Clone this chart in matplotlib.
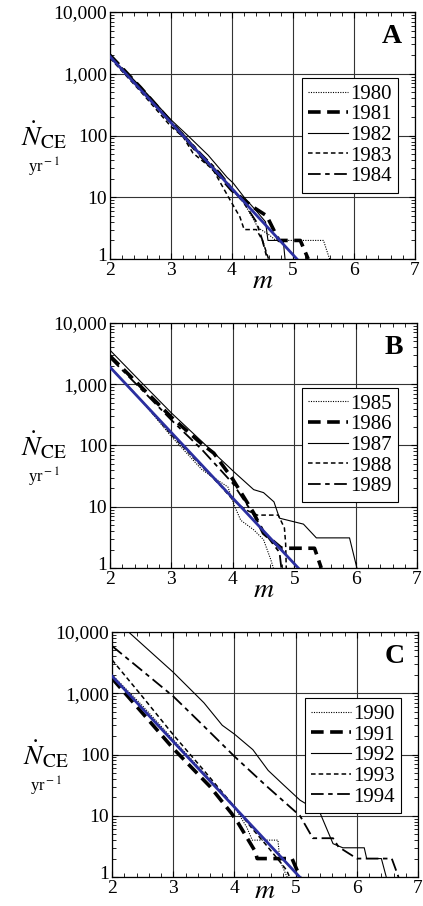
import numpy as np
import matplotlib
matplotlib.use('Agg')
import matplotlib.pyplot as plt
from matplotlib.ticker import FixedLocator, MultipleLocator, LogLocator, NullFormatter
from matplotlib.transforms import ScaledTranslation

plt.rcParams['font.family'] = ['Liberation Serif', 'DejaVu Serif']
plt.rcParams['mathtext.fontset'] = 'stix'

# fitted Gutenberg-Richter line (same in all panels)
fit_m = [2.0, 5.065]
fit_n = [1905, 1.0]

# panel A, 1980-1984
years_a = ['1980', '1981', '1982', '1983', '1984']
m_1980 = [2.0, 2.5, 3.0, 3.5, 3.8, 4.0, 4.2, 4.43, 4.6, 4.72, 5.5, 5.6]
n_1980 = [1900, 560, 160, 45, 25, 13, 8, 3.2, 2.5, 2, 2, 1]
m_1981 = [2.0, 2.5, 3.0, 3.5, 3.8, 4.0, 4.34, 4.57, 4.77, 5.12, 5.25]
n_1981 = [2000, 600, 165, 46, 22, 13, 7, 5, 2, 2, 1]
m_1982 = [2.0, 2.5, 3.0, 3.3, 3.61, 3.92, 4.02, 4.2, 4.4, 4.55, 4.59, 4.84, 4.87]
n_1982 = [1900, 620, 180, 95, 48, 21, 17, 10, 6, 4, 2, 2, 1]
m_1983 = [2.0, 2.5, 3.0, 3.2, 3.36, 3.69, 3.97, 4.13, 4.2, 4.4, 4.5, 4.6]
n_1983 = [1800, 520, 140, 95, 52, 28, 9, 4.8, 3, 3, 2, 1]
m_1984 = [2.0, 2.5, 3.0, 3.5, 3.8, 4.0, 4.2, 4.4, 4.5, 4.58]
n_1984 = [2000, 600, 170, 50, 25, 14, 8, 4, 2, 1]

# panel B, 1985-1989
years_b = ['1985', '1986', '1987', '1988', '1989']
m_1985 = [2.0, 2.5, 3.0, 3.5, 3.92, 4.02, 4.13, 4.34, 4.5, 4.62, 4.66]
n_1985 = [1900, 560, 140, 40, 21, 10.7, 6, 4.2, 2.9, 1.35, 1]
m_1986 = [2.0, 2.5, 3.0, 3.5, 3.69, 4.0, 4.34, 4.5, 4.79, 5.33, 5.44]
n_1986 = [2900, 920, 290, 105, 75, 28, 7.9, 3.7, 2.1, 2.1, 1]
m_1987 = [2.0, 2.5, 3.0, 3.5, 4.02, 4.34, 4.5, 4.67, 4.76, 5.15, 5.36, 5.9, 6.02]
n_1987 = [3600, 1100, 340, 115, 37, 19, 17, 12, 6.5, 5.2, 3.1, 3.1, 1]
m_1988 = [2.0, 2.5, 3.0, 3.5, 3.8, 4.0, 4.2, 4.4, 4.74, 4.84, 4.86, 4.87]
n_1988 = [1900, 560, 150, 45, 22, 13, 9, 7.3, 7.3, 4.5, 2.5, 1]
m_1989 = [2.0, 2.5, 3.0, 3.5, 4.0, 4.3, 4.5, 4.65, 4.76, 4.79]
n_1989 = [2700, 850, 260, 85, 24, 8.5, 4, 2.5, 1.8, 1]

# panel C, 1990-1994
years_c = ['1990', '1991', '1992', '1993', '1994']
m_1990 = [2.0, 2.5, 3.0, 3.5, 4.0, 4.2, 4.29, 4.71, 4.74, 4.83, 4.86]
n_1990 = [2000, 620, 175, 50, 14, 6.5, 4, 4, 1.9, 1.16, 1]
m_1991 = [2.0, 2.5, 3.0, 3.5, 3.6, 3.95, 4.06, 4.34, 4.37, 4.94, 5.07]
n_1991 = [1750, 470, 125, 38, 30, 11, 7.6, 2.6, 2, 2, 1]
m_1992 = [2.27, 2.5, 3.0, 3.5, 3.8, 4.0, 4.3, 4.55, 4.8, 5.07, 5.25, 5.4, 5.61, 5.77, 6.12, 6.16, 6.4, 6.48]
n_1992 = [10000, 6200, 2200, 700, 300, 215, 120, 55, 32, 18, 14, 11, 3.5, 3, 3, 2, 2, 1]
m_1993 = [2.0, 2.5, 3.0, 3.5, 4.0, 4.3, 4.5, 4.7, 4.85, 4.9]
n_1993 = [3500, 870, 210, 55, 14, 6, 3.5, 2, 1.3, 1]
m_1994 = [2.0, 2.5, 3.0, 3.5, 4.0, 4.5, 5.07, 5.28, 5.61, 5.7, 6.0, 6.57, 6.68]
n_1994 = [5900, 2300, 890, 290, 93, 32, 10, 4.3, 4.3, 3.1, 2, 2, 1]

# line styles in legend order: dotted, heavy dash, thin solid, short dash, long-short dash
styles = [
    dict(color='black', lw=0.8, dashes=(1, 1.2)),
    dict(color='black', lw=2.6, dashes=(3.5, 1.8)),
    dict(color='black', lw=0.8, linestyle='-'),
    dict(color='black', lw=1.1, dashes=(3, 2)),
    dict(color='black', lw=1.3, dashes=(7, 2.5, 2.5, 2.5)),
]

panels = [
    ('A', years_a, [(m_1980, n_1980), (m_1981, n_1981), (m_1982, n_1982), (m_1983, n_1983), (m_1984, n_1984)],
     [0.260, 0.7141, 0.721, 0.2726], (0.63, 0.733), -0.09),
    ('B', years_b, [(m_1985, n_1985), (m_1986, n_1986), (m_1987, n_1987), (m_1988, n_1988), (m_1989, n_1989)],
     [0.260, 0.3731, 0.726, 0.2704], (0.625, 0.735), -0.09),
    ('C', years_c, [(m_1990, n_1990), (m_1991, n_1991), (m_1992, n_1992), (m_1993, n_1993), (m_1994, n_1994)],
     [0.265, 0.0320, 0.7234, 0.2704], (0.63, 0.73), -0.06),
]

fig = plt.figure(figsize=(4.23, 9.06), dpi=100)

for letter, years, series, pos, leg_anchor, m_y in panels:
    ax = fig.add_axes(pos)
    for (m, n), yr, st in zip(series, years, styles):
        ax.plot(m, n, label=yr, **st)
    ax.plot(fit_m, fit_n, color='#2b2fa0', lw=2.0, zorder=5)

    ax.set_yscale('log')
    ax.set_xlim(2, 7)
    ax.set_ylim(1, 10000)
    ax.xaxis.set_major_locator(MultipleLocator(1))
    ax.xaxis.set_minor_locator(MultipleLocator(0.2))
    ax.yaxis.set_major_locator(FixedLocator([1, 10, 100, 1000, 10000]))
    ax.yaxis.set_minor_locator(LogLocator(base=10, subs=np.arange(2, 10)))
    ax.yaxis.set_minor_formatter(NullFormatter())
    ax.set_yticklabels(['1', '10', '100', '1,000', '10,000'])
    ax.tick_params(which='both', direction='in', top=True, right=True, labelsize=14)
    ax.tick_params(which='major', length=4, width=0.8)
    ax.tick_params(which='minor', length=3, width=0.6)
    ax.tick_params(axis='x', pad=2)
    ax.tick_params(axis='y', pad=2)
    ax.grid(True, which='major', color='#333333', lw=0.8)
    for sp in ax.spines.values():
        sp.set_linewidth(0.9)

    # nudge end labels inward like the original
    xt = ax.get_xticklabels()
    xt[0].set_transform(xt[0].get_transform() + ScaledTranslation(4 / 72, 0, fig.dpi_scale_trans))
    xt[-1].set_transform(xt[-1].get_transform() + ScaledTranslation(-2 / 72, 0, fig.dpi_scale_trans))
    yt = ax.get_yticklabels()
    yt[0].set_transform(yt[0].get_transform() + ScaledTranslation(0, 3 / 72, fig.dpi_scale_trans))

    # axis titles
    ax.text(0.5, m_y, '$m$', transform=ax.transAxes, fontsize=20,
            ha='center', va='center')
    ax.text(-0.215, 0.50, r'$\dot{N}_{\rm CE}$', transform=ax.transAxes,
            fontsize=20, ha='center', va='center')
    ax.text(-0.215, 0.37, r'yr$^{\rm -1}$', transform=ax.transAxes,
            fontsize=12, ha='center', va='center')
    ax.text(0.925, 0.90, letter, transform=ax.transAxes, fontsize=20,
            fontweight='bold', ha='center', va='center')

    leg = ax.legend(loc='upper left', bbox_to_anchor=leg_anchor, borderaxespad=0,
                    fontsize=15, frameon=True, fancybox=False, framealpha=1,
                    edgecolor='black', handlelength=1.9, handletextpad=0.1,
                    labelspacing=0.05, borderpad=0.3)
    leg.get_frame().set_linewidth(0.8)

plt.savefig('out.png', dpi=100)
